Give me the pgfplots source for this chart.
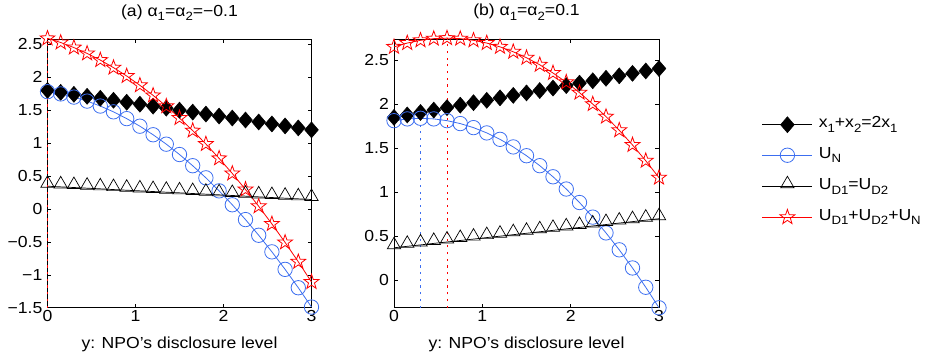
\documentclass[border=0pt]{standalone}
\usepackage{fontspec}
\setmainfont{Liberation Sans}[FakeStretch=1.1]
\usepackage{pgfplots}
\usepackage{pgfplotstable}
\pgfplotsset{compat=1.18}
\usetikzlibrary{plotmarks}

\definecolor{mblue}{RGB}{60,110,240}
\definecolor{mred}{RGB}{255,0,0}

\newcommand{\sub}[1]{\raisebox{-4.5pt}{\fontsize{12pt}{13pt}\selectfont #1}}

\pgfdeclareplotmark{pstar}{%
  \pgfpathmoveto{\pgfpointpolar{90}{\pgfplotmarksize}}%
  \pgfpathlineto{\pgfpointpolar{126}{0.40\pgfplotmarksize}}%
  \pgfpathlineto{\pgfpointpolar{162}{\pgfplotmarksize}}%
  \pgfpathlineto{\pgfpointpolar{198}{0.40\pgfplotmarksize}}%
  \pgfpathlineto{\pgfpointpolar{234}{\pgfplotmarksize}}%
  \pgfpathlineto{\pgfpointpolar{270}{0.40\pgfplotmarksize}}%
  \pgfpathlineto{\pgfpointpolar{306}{\pgfplotmarksize}}%
  \pgfpathlineto{\pgfpointpolar{342}{0.40\pgfplotmarksize}}%
  \pgfpathlineto{\pgfpointpolar{18}{\pgfplotmarksize}}%
  \pgfpathlineto{\pgfpointpolar{54}{0.40\pgfplotmarksize}}%
  \pgfpathclose
  \pgfusepathqstroke
}
\pgfdeclareplotmark{pdia}{%
  \pgfpathmoveto{\pgfpoint{0pt}{\pgfplotmarksize}}%
  \pgfpathlineto{\pgfpoint{0.86\pgfplotmarksize}{0pt}}%
  \pgfpathlineto{\pgfpoint{0pt}{-\pgfplotmarksize}}%
  \pgfpathlineto{\pgfpoint{-0.86\pgfplotmarksize}{0pt}}%
  \pgfpathclose
  \pgfusepathqfillstroke
}

\pgfplotstableread{
x dia circ tri star
0.00 1.80 1.780 0.345 2.590
0.15 1.77 1.746 0.335 2.527
0.30 1.74 1.698 0.325 2.450
0.45 1.71 1.637 0.315 2.361
0.60 1.68 1.562 0.305 2.260
0.75 1.65 1.474 0.294 2.145
0.90 1.62 1.371 0.284 2.018
1.05 1.59 1.256 0.274 1.877
1.20 1.56 1.126 0.264 1.724
1.35 1.53 0.983 0.254 1.559
1.50 1.50 0.826 0.244 1.380
1.65 1.47 0.656 0.234 1.189
1.80 1.44 0.472 0.224 0.985
1.95 1.41 0.274 0.214 0.768
2.10 1.38 0.063 0.204 0.538
2.25 1.35 -0.162 0.194 0.295
2.40 1.32 -0.400 0.183 0.040
2.55 1.29 -0.652 0.173 -0.228
2.70 1.26 -0.918 0.163 -0.509
2.85 1.23 -1.197 0.153 -0.803
3.00 1.20 -1.490 0.143 -1.110
}\tableA

\pgfplotstableread{
x dia circ tri star
0.00 1.850 1.813 0.370 2.651
0.15 1.878 1.833 0.387 2.694
0.30 1.906 1.840 0.403 2.725
0.45 1.933 1.833 0.420 2.744
0.60 1.961 1.813 0.436 2.750
0.75 1.989 1.780 0.453 2.744
0.90 2.017 1.734 0.469 2.725
1.05 2.044 1.674 0.486 2.694
1.20 2.072 1.601 0.502 2.651
1.35 2.100 1.515 0.519 2.595
1.50 2.128 1.415 0.535 2.527
1.65 2.155 1.302 0.552 2.447
1.80 2.183 1.176 0.568 2.354
1.95 2.211 1.037 0.585 2.249
2.10 2.239 0.884 0.601 2.131
2.25 2.266 0.718 0.618 2.001
2.40 2.294 0.539 0.634 1.859
2.55 2.322 0.347 0.651 1.704
2.70 2.350 0.141 0.667 1.537
2.85 2.377 -0.078 0.684 1.358
3.00 2.405 -0.311 0.700 1.166
}\tableB

\pgfplotsset{
  panel/.style={
    scale only axis, height=268.7pt,
    xmin=0, xmax=3, xtick={0,1,2,3}, xticklabels={0,1,2,3},
    tick align=inside, major tick length=4pt,
    axis line style={line width=0.7pt},
    every tick/.style={black, line width=0.5pt},
    clip=false,
    xticklabel style={anchor=north, inner sep=0pt, yshift=-2.5pt},
    yticklabel style={anchor=east, inner sep=0pt, xshift=-5pt},
    title style={at={(0.5,1)}, anchor=base, yshift=17pt, inner sep=0pt},
    xlabel style={at={(0.5,0)}, anchor=base, yshift=-41pt, inner sep=0pt},
    xlabel={y: NPO’s disclosure level},
    legend image code/.code={\draw[mark repeat=2,mark phase=2,#1] plot coordinates {(0pt,0pt) (25pt,0pt) (50pt,0pt)};},
  },
  sdia/.style={black, line width=0.6pt, mark=pdia, mark size=8pt, mark options={solid, fill=black, line width=0.5pt}},
  scirc/.style={mblue, line width=0.8pt, mark=o, mark size=7.2pt, mark options={solid}},
  stri/.style={black, line width=0.7pt, mark=triangle, mark size=7.7pt, mark options={solid, yshift=2.8pt}},
  sstar/.style={mred, line width=0.8pt, mark=pstar, mark size=7.8pt, mark options={solid}},
  sdot/.style={line width=1pt, dash pattern=on 2.2pt off 4.5pt, forget plot},
}

\begin{document}
\begin{tikzpicture}[font=\fontsize{16pt}{19pt}\selectfont]
\path[use as bounding box] (0,0) rectangle (926pt,359pt);

\begin{axis}[panel, at={(47.5pt,51.3pt)}, anchor=south west, width=264pt,
  ymin=-1.5, ymax=2.58,
  ytick={-1.5,-1,-0.5,0,0.5,1,1.5,2,2.5},
  yticklabels={−1.5,−1,−0.5,0,0.5,1,1.5,2,2.5},
  title={(a) α\sub{1}=α\sub{2}=−0.1}]
\addplot[sdia] table[x=x,y=dia] {\tableA};
\addplot[scirc] table[x=x,y=circ] {\tableA};
\addplot[stri] table[x=x,y=tri] {\tableA};
\addplot[sstar] table[x=x,y=star] {\tableA};
\addplot[sdot, color=mblue] coordinates {(0,-1.5) (0,1.78)};
\addplot[sdot, color=mred] coordinates {(0,-1.5) (0,2.59)};
\end{axis}

\begin{axis}[panel, at={(394pt,51.3pt)}, anchor=south west, width=265pt,
  ymin=-0.31, ymax=2.74,
  ytick={0,0.5,1,1.5,2,2.5},
  yticklabels={0,0.5,1,1.5,2,2.5},
  title={(b) α\sub{1}=α\sub{2}=0.1},
  legend cell align=left,
  legend style={draw=none, fill=none, at={(1.3887,0.5088)}, anchor=west,
    inner sep=0pt, outer sep=0pt, row sep=11.5pt,
    nodes={inner sep=0pt, text height=12.5pt, text depth=6.5pt},
    /tikz/every odd column/.append style={column sep=6pt}}]
\addplot[sdia] table[x=x,y=dia] {\tableB};
\addplot[scirc] table[x=x,y=circ] {\tableB};
\addplot[stri] table[x=x,y=tri] {\tableB};
\addplot[sstar] table[x=x,y=star] {\tableB};
\addplot[sdot, color=mblue] coordinates {(0.3,-0.31) (0.3,1.84)};
\addplot[sdot, color=mred] coordinates {(0.6,-0.31) (0.6,2.75)};
\legend{x\sub{1}+x\sub{2}=2x\sub{1}, U\sub{N}, U\sub{D1}=U\sub{D2}, U\sub{D1}+U\sub{D2}+U\sub{N}}
\end{axis}
\end{tikzpicture}
\end{document}
